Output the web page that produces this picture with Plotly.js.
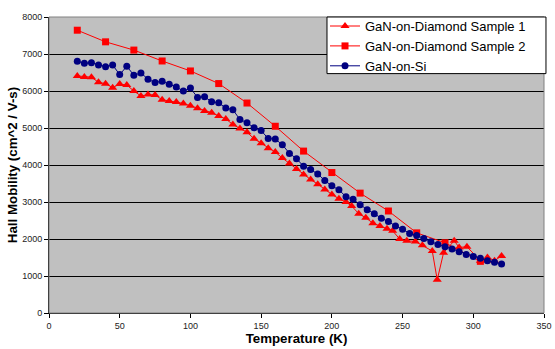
<!DOCTYPE html>
<html>
<head>
<meta charset="utf-8">
<script src="https://cdn.plot.ly/plotly-3.0.1.min.js"></script>
<style>html,body{margin:0;padding:0;background:#fff;}#chart{width:555px;height:349px;}</style>
</head>
<body>
<div id="chart"></div>
<script>
// Sample 1 (triangles)
const s1Temp = [20,25,30,35,40,45,50,55,60,65,70,75,80,85,90,95,100,105,110,115,120,125,130,135,140,145,150,155,160,165,170,175,180,185,190,195,200,205,210,214,219,224,229,234,239,243,248,253,259,264,271,274.5,279,286.5,290,295.5,305,310,315,320];
const s1Mob = [6408,6381,6373,6234,6199,6091,6188,6161,6000,5866,5903,5893,5764,5732,5702,5664,5600,5535,5460,5415,5326,5246,5093,4985,4886,4709,4591,4456,4349,4188,4038,3893,3742,3608,3482,3340,3205,3087,3000,2890,2685,2573,2427,2354,2274,2220,1997,1952,1933,1831,1675,897,1630,1952,1772,1791,1415,1501,1415,1541];
// Sample 2 (squares)
const s2Temp = [20,40,60,80,100,120,140,160,180,200,220,240,260,280,305];
const s2Mob = [7643,7329,7106,6811,6542,6201,5675,5047,4376,3796,3240,2757,2166,1898,1396];
// GaN-on-Si (circles)
const siTemp = [20,25,30,35,40,45,50,55,60,65,70,75,80,85,90,95,100,105,110,115,120,125,130,135,140,145,150,155,160,165,170,175,180,185,190,195,200,205,210,215,220,225,230,235,240,245,250,255,260,265,270,275,280,285,290,295,300,305,310,315,320];
const siMob = [6803,6749,6765,6703,6658,6703,6443,6668,6427,6489,6319,6228,6266,6180,6110,5997,6078,5826,5844,5710,5680,5540,5495,5230,5145,5005,4930,4715,4700,4548,4314,4172,3965,3877,3758,3581,3436,3329,3141,3071,2926,2792,2685,2561,2470,2354,2266,2148,2094,2013,1925,1852,1791,1729,1656,1584,1530,1477,1415,1369,1326];
const seriesNames = ["GaN-on-Diamond Sample 1","GaN-on-Diamond Sample 2","GaN-on-Si"];
const xTicks = [0,50,100,150,200,250,300,350];
const yTicks = [0,1000,2000,3000,4000,5000,6000,7000,8000];

const traces = [
  {x:s1Temp, y:s1Mob, name:seriesNames[0], mode:'lines+markers', type:'scatter',
   line:{color:'#FF0000', width:1}, marker:{symbol:'triangle-up', size:8, color:'#FF0000'}},
  {x:s2Temp, y:s2Mob, name:seriesNames[1], mode:'lines+markers', type:'scatter',
   line:{color:'#FF0000', width:1}, marker:{symbol:'square', size:7, color:'#FF0000'}},
  {x:siTemp, y:siMob, name:seriesNames[2], mode:'lines+markers', type:'scatter',
   line:{color:'#000080', width:1}, marker:{symbol:'circle', size:7, color:'#000080'}}
];

const layout = {
  width:555, height:349,
  margin:{l:49, r:11, t:15, b:36},
  paper_bgcolor:'#FFFFFF',
  plot_bgcolor:'#C0C0C0',
  font:{family:'Liberation Sans, Arial, sans-serif', color:'#000'},
  showlegend:true,
  legend:{x:0.5576, y:1.0201, xanchor:'left', yanchor:'top', bgcolor:'rgba(0,0,0,0)',
    borderwidth:0, font:{size:13, color:'#000'},
    tracegroupgap:0, itemwidth:30},
  xaxis:{range:[0,350], tickvals:xTicks, ticktext:xTicks.map(String), showgrid:false, zeroline:false,
    showline:true, linecolor:'#000', linewidth:1, ticks:'outside', ticklen:4, tickcolor:'#000',
    tickfont:{size:9, color:'#222'},
    title:{text:'<b>Temperature (K)</b>', font:{size:13.3, color:'#000'}, standoff:1}},
  yaxis:{range:[0,8000], tickvals:yTicks, ticktext:yTicks.map(String), showgrid:true, gridcolor:'#000000', gridwidth:1,
    zeroline:false, showline:true, linecolor:'#000', linewidth:1, ticks:'outside', ticklen:4, tickcolor:'#000',
    tickfont:{size:9, color:'#222'},
    title:{text:'<b>Hall Mobility (cm^2 / V-s)</b>', font:{size:13.3, color:'#000'}, standoff:1}},
  shapes:[
    {type:'rect', xref:'paper', yref:'paper', x0:0, x1:1, y0:0, y1:1, line:{color:'#808080', width:1}, layer:'above'},
    {type:'rect', xref:'paper', yref:'paper', x0:0.5616, x1:1.004, y0:0.8087, y1:1.0, fillcolor:'#FFFFFF', line:{color:'#000000', width:1}, layer:'above'}
  ]
};

Plotly.newPlot('chart', traces, layout, {displayModeBar:false, staticPlot:true});
</script>
</body>
</html>
